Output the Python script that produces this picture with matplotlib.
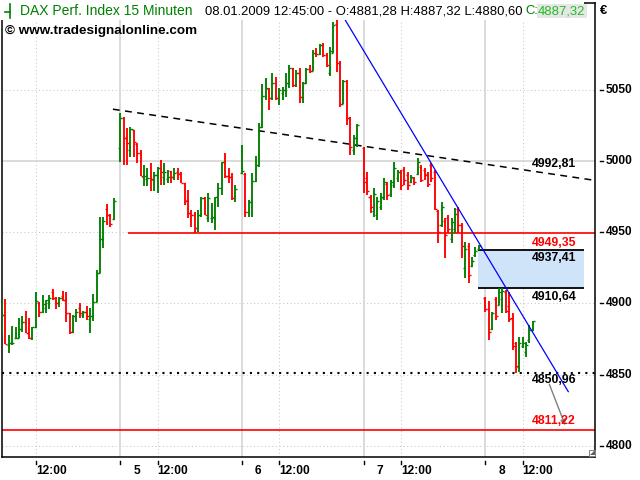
import numpy as np
import matplotlib.pyplot as plt
from matplotlib.patches import Rectangle, Polygon
from matplotlib.transforms import blended_transform_factory

plt.rcParams['font.family'] = ['Liberation Sans', 'DejaVu Sans']

# 15 minute OHLC bars per session: [open, high, low, close]
jan02 = [
    [4880.0, 4902.4, 4878.5, 4891.8], [4891.8, 4903.0, 4871.2, 4871.5], [4871.0, 4877.8, 4864.9, 4872.0],
    [4872.0, 4884.0, 4871.0, 4872.5], [4875.5, 4883.2, 4875.0, 4876.0], [4876.0, 4889.5, 4875.4, 4881.7],
    [4881.7, 4891.0, 4880.0, 4887.1], [4887.1, 4894.9, 4878.9, 4879.4], [4879.4, 4890.0, 4875.0, 4875.4],
    [4875.4, 4883.6, 4874.3, 4883.6], [4883.6, 4908.2, 4882.4, 4901.7], [4900.0, 4901.2, 4890.6, 4893.9],
    [4893.9, 4905.9, 4893.5, 4899.3], [4897.0, 4902.4, 4893.0, 4902.4], [4900.0, 4905.9, 4895.8, 4903.5],
    [4908.0, 4910.0, 4902.4, 4903.5], [4903.5, 4904.7, 4895.8, 4900.0], [4900.0, 4904.7, 4897.7, 4903.5],
    [4905.0, 4908.9, 4901.7, 4902.4], [4902.4, 4908.2, 4887.1, 4893.5], [4893.5, 4893.5, 4878.2, 4880.0],
    [4880.0, 4891.8, 4879.4, 4891.1], [4891.1, 4895.8, 4887.1, 4894.2], [4897.0, 4900.0, 4890.0, 4893.0],
    [4892.0, 4894.9, 4889.5, 4893.9], [4893.9, 4898.1, 4888.3, 4891.1], [4889.0, 4896.5, 4879.4, 4891.0],
    [4891.0, 4906.6, 4887.6, 4901.2], [4901.2, 4923.4, 4901.2, 4921.1], [4921.1, 4960.4, 4921.1, 4945.0],
    [4945.0, 4961.0, 4938.6, 4958.0], [4966.0, 4969.8, 4955.0, 4962.0], [4962.0, 4962.8, 4953.9, 4956.0],
    [4959.0, 4973.8, 4958.6, 4972.0],
]
jan05 = [
    [5008.9, 5033.9, 4999.5, 5030.0], [5030.0, 5031.1, 4997.1, 5016.3], [5016.3, 5022.9, 4997.1, 5012.4],
    [5007.7, 5024.1, 5003.0, 5022.4], [5021.5, 5021.7, 5003.0, 5013.5], [5012.0, 5012.4, 4998.3, 5005.3],
    [5005.3, 5007.7, 4989.4, 4989.4], [4988.5, 4997.1, 4982.4, 4989.4], [4987.1, 4994.8, 4982.4, 4987.8],
    [4987.8, 4998.3, 4979.1, 4987.3], [4986.6, 4992.5, 4979.1, 4990.1], [4990.1, 4996.0, 4977.7, 4994.8],
    [4994.8, 5000.7, 4983.1, 4992.5], [4988.5, 4998.3, 4983.1, 4992.0], [4987.3, 4993.6, 4984.3, 4988.5],
    [4992.9, 4993.2, 4984.3, 4989.0], [4989.0, 4994.8, 4986.6, 4991.8], [4992.5, 4994.8, 4986.6, 4990.8],
    [4991.3, 4992.5, 4984.3, 4984.7], [4984.3, 4984.7, 4969.0, 4971.9], [4972.6, 4979.6, 4959.7, 4963.2],
    [4963.2, 4965.5, 4953.8, 4962.0], [4962.0, 4964.4, 4949.35, 4952.7], [4952.7, 4965.5, 4950.3, 4962.0],
    [4962.0, 4974.9, 4960.9, 4973.7], [4973.7, 4974.9, 4962.0, 4962.0], [4959.7, 4977.3, 4957.3, 4973.7],
    [4959.7, 4970.2, 4956.2, 4960.5], [4959.7, 4974.9, 4951.5, 4974.4], [4974.4, 4984.3, 4967.9, 4981.2],
    [4981.2, 4999.5, 4976.1, 4999.5], [4999.5, 5005.3, 4987.8, 4989.4], [4989.4, 4994.8, 4984.3, 4989.0],
    [4989.0, 4991.3, 4972.6, 4973.7], [4973.7, 4983.1, 4971.4, 4980.0],
]
jan06 = [
    [4991.5, 5011.2, 4990.8, 4993.0], [4990.6, 4991.3, 4960.9, 4964.4], [4964.4, 4972.6, 4960.9, 4971.4],
    [4971.4, 4991.3, 4960.9, 4985.9], [4985.9, 5003.5, 4985.0, 4997.1], [4997.1, 5026.4, 4996.0, 5023.6],
    [5023.6, 5054.0, 5022.9, 5045.8], [5045.8, 5058.0, 5042.8, 5051.0], [5050.8, 5051.0, 5035.8, 5044.0],
    [5044.0, 5061.5, 5043.0, 5055.0], [5055.0, 5059.2, 5042.8, 5044.0], [5044.0, 5051.0, 5039.3, 5049.8],
    [5048.0, 5052.2, 5042.8, 5050.0], [5050.0, 5061.5, 5045.1, 5054.5], [5054.5, 5067.4, 5051.0, 5065.0],
    [5065.0, 5065.0, 5052.2, 5053.3], [5053.3, 5063.9, 5052.2, 5061.5], [5061.5, 5065.0, 5040.5, 5045.1],
    [5045.1, 5055.7, 5040.5, 5055.0], [5055.0, 5065.0, 5054.0, 5064.3], [5064.3, 5067.4, 5061.5, 5063.4],
    [5063.4, 5077.9, 5063.0, 5076.0], [5076.0, 5079.1, 5073.2, 5074.9], [5074.9, 5081.9, 5074.4, 5081.4],
    [5081.4, 5082.6, 5073.2, 5074.4], [5074.4, 5075.6, 5066.2, 5067.4], [5062.0, 5080.0, 5060.0, 5077.0],
    [5076.0, 5097.8, 5075.6, 5095.5], [5096.0, 5099.0, 5062.7, 5069.0], [5069.0, 5070.0, 5038.0, 5040.0],
    [5040.0, 5057.0, 5040.0, 5056.0], [5056.0, 5057.0, 5025.0, 5030.0], [5030.0, 5031.0, 5004.0, 5010.0],
    [5008.0, 5018.0, 5004.0, 5016.0], [5016.0, 5026.0, 5010.0, 5025.0],
]
jan07 = [
    [5009.0, 5010.0, 4977.3, 4985.4], [4988.0, 4992.5, 4976.1, 4979.0], [4975.0, 4976.1, 4963.2, 4967.9],
    [4965.0, 4980.8, 4960.9, 4977.0], [4962.0, 4974.9, 4958.5, 4972.0], [4968.0, 4977.3, 4965.5, 4975.0],
    [4974.0, 4987.8, 4972.6, 4985.0], [4984.0, 4985.4, 4972.6, 4976.0], [4977.0, 4986.6, 4974.9, 4985.0],
    [4983.0, 4999.5, 4980.8, 4995.0], [4988.0, 4993.6, 4985.4, 4992.0], [4992.0, 4993.6, 4979.6, 4983.0],
    [4994.0, 4996.0, 4983.1, 4987.0], [4990.0, 4992.5, 4979.6, 4983.0], [4985.0, 4990.1, 4984.3, 4989.0],
    [4988.0, 4989.0, 4983.1, 4985.0], [4991.0, 5001.8, 4990.1, 4999.0], [4996.0, 4997.1, 4985.4, 4987.0],
    [4994.0, 4994.8, 4986.6, 4990.0], [4991.0, 4992.5, 4981.9, 4984.0], [4997.0, 4998.3, 4985.4, 4988.0],
    [4992.0, 4993.6, 4965.5, 4966.0], [4965.0, 4965.5, 4942.1, 4950.0], [4955.0, 4971.4, 4953.8, 4968.0],
    [4958.0, 4959.7, 4931.6, 4948.0], [4960.0, 4962.0, 4949.2, 4952.0], [4945.0, 4959.7, 4942.1, 4957.0],
    [4952.0, 4966.7, 4949.2, 4963.0], [4966.0, 4967.9, 4949.2, 4955.0], [4955.0, 4956.2, 4931.6, 4940.0],
    [4925.0, 4943.3, 4917.6, 4938.0], [4940.0, 4942.1, 4914.0, 4920.0], [4926.0, 4932.8, 4925.8, 4930.0],
    [4934.0, 4939.8, 4932.8, 4937.0], [4938.0, 4941.0, 4937.4, 4940.0],
]
jan08 = [
    [4904.0, 4904.7, 4894.2, 4896.0], [4896.0, 4901.7, 4874.5, 4880.0], [4882.0, 4894.1, 4881.3, 4893.0],
    [4903.0, 4904.7, 4888.3, 4891.0], [4899.0, 4910.5, 4898.8, 4908.0], [4903.0, 4910.5, 4893.0, 4909.0],
    [4908.0, 4909.4, 4893.0, 4895.0], [4898.0, 4908.2, 4887.1, 4889.0], [4890.0, 4893.0, 4867.2, 4870.0],
    [4872.0, 4873.0, 4850.96, 4856.0], [4855.0, 4876.6, 4852.0, 4872.0], [4870.0, 4876.6, 4868.4, 4872.5],
    [4866.0, 4873.0, 4862.5, 4871.0], [4874.0, 4884.8, 4871.9, 4881.0], [4881.28, 4887.32, 4880.60, 4887.32],
]
sessions = [jan02, jan05, jan06, jan07, jan08]
session_start = [0, 36, 72, 108, 144]   # 36 slots per trading day
first_slot = [1, 0, 0, 0, 0]
day_labels = ['', '5', '6', '7', '8']
noon_slot = 11

# drawn levels / tools
black_trend_x = [33.8, 176.4]
black_trend_y = [5036.4, 4986.4]
blue_trend_x = [101.9, 168.5]
blue_trend_y = [5101.5, 4838.0]
red_level = 4949.35
red_level_from = 38.2
low_level = 4811.22
dotted_level = 4850.96
box_top, box_bottom = 4937.41, 4910.64
box_x = [141.7, 173.2]
arrow_from = (162.6, 4845.0)
arrow_to = (167.9, 4812.5)
yticks = [4800, 4850, 4900, 4950, 5000, 5050]

green = '#008000'
red = '#ff0000'
grid = '#d4d4d4'

W, H = 640, 480
fig = plt.figure(figsize=(6.4, 4.8), dpi=100)
ax = fig.add_axes([1.5 / W, 23 / H, 593.5 / W, 454 / H])
ax.set_xlim(0.85, 176.4)
ax.set_ylim(4792.1, 5111.0)

# grid
for y in yticks:
    if y == 5000:
        ax.axhline(y, color=grid, lw=1.2, zorder=0)
    else:
        ax.axhline(y, color='#c8c8c8', lw=0.75, ls=(0, (1, 2.5)), zorder=0)
for s in session_start:
    if s > 0:
        ax.axvline(s, color=grid, lw=1.2, zorder=0)
    ax.axvline(s + noon_slot, color='#c8c8c8', lw=0.75, ls=(0, (1, 2.5)), zorder=0)

# levels
ax.add_patch(Rectangle((box_x[0], box_bottom), box_x[1] - box_x[0], box_top - box_bottom,
                       facecolor='#cfe4f8', edgecolor='none', zorder=1))
ax.hlines([box_top, box_bottom], box_x[0], box_x[1], color='black', lw=1.3, zorder=2)
ax.hlines(red_level, red_level_from, 176.4, color=red, lw=1.2, zorder=2)
ax.axhline(low_level, color=red, lw=1.2, zorder=2)
ax.axhline(dotted_level, color='black', lw=1.5, ls=(0, (1, 2.5)), zorder=2)
ax.plot(black_trend_x, black_trend_y, color='black', lw=1.1, ls=(0, (4.5, 3.5)), zorder=2)

# bars
for start, first, rows in zip(session_start, first_slot, sessions):
    rows = np.array(rows)
    x = start + first + np.arange(len(rows))
    o, h, l, c = rows.T
    col = np.where(c >= o, green, red)
    ax.vlines(x, l, h, colors=col, lw=1.35, zorder=3)
    ax.hlines(o, x - 0.6, x, colors=col, lw=1.0, zorder=3)
    ax.hlines(c, x, x + 0.6, colors=col, lw=1.0, zorder=3)

ax.plot(blue_trend_x, blue_trend_y, color='#0000ff', lw=0.9, zorder=4)
ax.annotate('', xy=arrow_to, xytext=arrow_from,
            arrowprops=dict(arrowstyle='-|>', color='#808080', lw=1, mutation_scale=8), zorder=4)

# level labels
lab_x = 157.8
labels = [('4992,81', 4992.81, 7.3, 'black'), ('4949,35', red_level, -9.6, red),
          ('4937,41', box_top, -8.1, 'black'), ('4910,64', box_bottom, -8.4, 'black'),
          ('4850,96', dotted_level, -6.8, 'black'), ('4811,22', low_level, 8.8, red)]
for txt, lvl, dy, colr in labels:
    ax.annotate(txt, (lab_x, lvl), xytext=(0, dy), textcoords='offset pixels',
                ha='left', va='center', fontsize=8.8, fontweight='bold', color=colr, zorder=5)

for side in ax.spines.values():
    side.set_color('black')
    side.set_linewidth(1.1)
ax.set_xticks([])
ax.set_yticks([])

# y axis labels on the right
ty = blended_transform_factory(ax.transAxes, ax.transData)
for y in yticks:
    ax.plot([1.0085, 1.0135], [y, y], color='black', lw=1, transform=ty, clip_on=False)
    ax.text(1.0185, y, str(y), transform=ty, ha='left', va='center',
            fontsize=8.6, fontweight='bold')

# x axis labels
tx = blended_transform_factory(ax.transData, ax.transAxes)
for s, lab in zip(session_start, day_labels):
    ticks = [s + noon_slot] + ([s] if lab else [])
    for t in ticks:
        ax.plot([t, t], [-0.009, -0.016], color='black', lw=1, transform=tx, clip_on=False)
    ax.text(s + noon_slot, -0.031, '12:00', transform=tx, ha='left', va='center',
            fontsize=8.6, fontweight='bold')
    if lab:
        ax.text(s + 3.8, -0.031, lab, transform=tx, ha='left', va='center',
                fontsize=8.6, fontweight='bold')

# small corner icon
fig.add_artist(Rectangle((589 / W, 24 / H), 6 / W, 6 / H, transform=fig.transFigure,
                         facecolor='white', edgecolor='#808080', lw=0.7, zorder=6))
fig.add_artist(Polygon([[590 / W, 25 / H], [595 / W, 25 / H], [595 / W, 30 / H]],
                       transform=fig.transFigure, facecolor='#606060', edgecolor='none', zorder=6))

# header
fig.add_artist(Rectangle((0, 1 - 20 / H), 584 / W, 20 / H, transform=fig.transFigure,
                         facecolor='white', edgecolor='none', zorder=5))
fig.add_artist(plt.Line2D([10 / W, 10 / W], [1 - 4 / H, 1 - 18 / H], color=green, lw=1.2, zorder=6))
fig.add_artist(plt.Line2D([5 / W, 10 / W], [1 - 12 / H, 1 - 12 / H], color=green, lw=1.2, zorder=6))
fig.text(20 / W, 1 - 11 / H, 'DAX Perf. Index 15 Minuten', color=green, fontsize=10,
         va='center', ha='left', zorder=6)
fig.text(205 / W, 1 - 11 / H, '08.01.2009 12:45:00 - O:4881,28 H:4887,32 L:4880,60',
         color='black', fontsize=9.4, va='center', ha='left', zorder=6)
fig.text(525 / W, 1 - 11 / H, 'C:', color=green, fontsize=9.4, va='center', ha='left', zorder=6)
fig.text(538 / W, 1 - 11 / H, '4887,32', color='#22bb22', fontsize=9.4, va='center', ha='left', zorder=6,
         bbox=dict(boxstyle='square,pad=0.1', facecolor='#e6e6e6', edgecolor='none'))
fig.text(5 / W, 1 - 31 / H, '\u00a9 www.tradesignalonline.com', color='black', fontsize=9.7,
         fontweight='bold', va='center', ha='left', zorder=6)
fig.text(600 / W, 1 - 11 / H, '\u20ac', color='black', fontsize=9.4, fontweight='bold',
         va='center', ha='left')

fig.savefig('out.png', dpi=100)
